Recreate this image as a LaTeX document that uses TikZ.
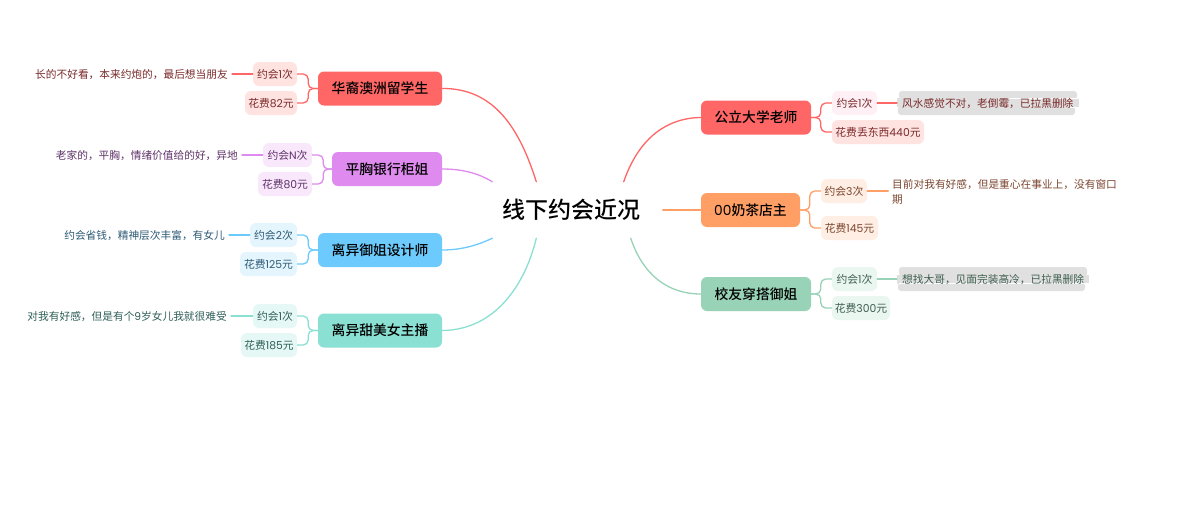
\documentclass[tikz,border=0pt]{standalone}
\usepackage{fontspec}
\setmainfont{Noto Sans CJK SC}
\newfontfamily\medf{Noto Sans CJK SC Medium}
\newfontfamily\latf{Poppins}
\newcommand{\lat}[1]{{\latf #1}}
\definecolor{cRed}{HTML}{FF6666}
\definecolor{cRedL}{HTML}{FFE3E0}
\definecolor{cRedT}{HTML}{7A2A2A}
\definecolor{cPink}{HTML}{FFF0F6}
\definecolor{cPur}{HTML}{DE8AEE}
\definecolor{cPurL}{HTML}{F9E8FC}
\definecolor{cPurT}{HTML}{5E3268}
\definecolor{cBlue}{HTML}{6CCBFC}
\definecolor{cBlueL}{HTML}{E4F5FE}
\definecolor{cBlueT}{HTML}{2E5A75}
\definecolor{cTeal}{HTML}{8AE0D2}
\definecolor{cTealL}{HTML}{E6F8F5}
\definecolor{cTealT}{HTML}{2F5F58}
\definecolor{cOr}{HTML}{FF9F66}
\definecolor{cOrL}{HTML}{FFEEE3}
\definecolor{cOrT}{HTML}{7C4630}
\definecolor{cGr}{HTML}{98D3B7}
\definecolor{cGrL}{HTML}{EAF6F0}
\definecolor{cGrT}{HTML}{3F5F50}
\definecolor{cHi}{HTML}{E0E0E0}
\tikzset{
  x=1pt,y=-1pt,
  mainbox/.style={rounded corners=6pt,inner sep=0pt,minimum height=34pt,text=black,text height=12.1pt,text depth=1.7pt,font=\fontsize{13.8}{16}\medf},
  subbox/.style={rounded corners=6pt,inner sep=0pt,minimum height=24pt,text height=9.5pt,text depth=1.3pt,font=\fontsize{10.8}{13}\selectfont},
  leaf/.style={inner sep=0pt,text height=9.4pt,text depth=1.3pt,font=\fontsize{10.7}{15}\selectfont},
  leafwrap/.style={inner sep=0pt,font=\fontsize{10.7}{15}\selectfont},
  link/.style={line width=1.3pt,line cap=round},
  bracket/.style={line width=1.3pt,rounded corners=5pt},
  hibar/.style={fill=cHi,draw=none},
  rootnode/.style={inner sep=0pt,minimum width=158pt,minimum height=56pt,text height=20.2pt,text depth=2.8pt,font=\fontsize{23}{26}\medf}
}
\begin{document}
\begin{tikzpicture}
\useasboundingbox[fill=white] (0,0) rectangle (1200,504);
\node[rootnode] (root) at (571.5,210) {线下约会近况};
% left main
\node[mainbox,fill=cRed,minimum width=124pt] (a) at (380,88.5) {华裔澳洲留学生};
\node[mainbox,fill=cPur,minimum width=110pt] (b) at (387,169) {平胸银行柜姐};
\node[mainbox,fill=cBlue,minimum width=124pt] (c) at (380,250) {离异御姐设计师};
\node[mainbox,fill=cTeal,minimum width=124pt] (d) at (380,330.5) {离异甜美女主播};
% right main
\node[mainbox,fill=cRed,minimum width=110pt] (e) at (756,117.5) {公立大学老师};
\node[mainbox,fill=cOr,minimum width=99pt] (f) at (750.5,210) {\lat{00}奶茶店主};
\node[mainbox,fill=cGr,minimum width=110pt] (g) at (756,294) {校友穿搭御姐};
% left subs
\node[subbox,fill=cRedL,text=cRedT,minimum width=44pt] (a1) at (275,74) {约会\lat{1}次};
\node[subbox,fill=cRedL,text=cRedT,minimum width=52pt] (a2) at (271,103) {花费\lat{82}元};
\node[subbox,fill=cPurL,text=cPurT,minimum width=49pt] (b1) at (287.5,155) {约会\lat{N}次};
\node[subbox,fill=cPurL,text=cPurT,minimum width=54pt] (b2) at (285,184) {花费\lat{80}元};
\node[subbox,fill=cBlueL,text=cBlueT,minimum width=47pt] (c1) at (273.5,235) {约会\lat{2}次};
\node[subbox,fill=cBlueL,text=cBlueT,minimum width=57pt] (c2) at (268.5,264) {花费\lat{125}元};
\node[subbox,fill=cTealL,text=cTealT,minimum width=44pt] (d1) at (275,316) {约会\lat{1}次};
\node[subbox,fill=cTealL,text=cTealT,minimum width=56pt] (d2) at (269,345) {花费\lat{185}元};
% right subs
\node[subbox,fill=cPink,text=cRedT,minimum width=45pt] (e1) at (854.5,103) {约会\lat{1}次};
\node[subbox,fill=cRedL,text=cRedT,minimum width=92pt] (e2) at (878,132) {花费丢东西\lat{440}元};
\node[subbox,fill=cOrL,text=cOrT,minimum width=46pt] (f1) at (844,191) {约会\lat{3}次};
\node[subbox,fill=cOrL,text=cOrT,minimum width=57pt] (f2) at (849.5,228) {花费\lat{145}元};
\node[subbox,fill=cGrL,text=cGrT,minimum width=45pt] (g1) at (854.5,279) {约会\lat{1}次};
\node[subbox,fill=cGrL,text=cGrT,minimum width=58pt] (g2) at (861,308) {花费\lat{300}元};
% highlight bars
\fill[hibar,rounded corners=3pt] (899,91) rectangle (1077,99);
\fill[hibar] (897,98) rectangle (1079,107);
\fill[hibar,rounded corners=3pt] (898,106) rectangle (1075,115);
\fill[hibar,rounded corners=3pt] (899,267) rectangle (1087,276);
\fill[hibar] (897,275) rectangle (1089,284);
\fill[hibar,rounded corners=3pt] (898,283) rectangle (1085,291);
\draw[white,line width=.6pt] (1010,98) -- (1079,98);
\draw[white,line width=.6pt] (1068,107) -- (1079,107);
\draw[white,line width=.6pt] (899,283) -- (1089,283);
% leaves
\node[leaf,text=cRedT,anchor=east] (a3) at (228,74) {长的不好看，本来约炮的，最后想当朋友};
\node[leaf,text=cPurT,anchor=east] (b3) at (238,155) {老家的，平胸，情绪价值给的好，异地};
\node[leaf,text=cBlueT,anchor=east] (c3) at (225,235) {约会省钱，精神层次丰富，有女儿};
\node[leaf,text=cTealT,anchor=east] (d3) at (227,316) {对我有好感，但是有个\lat{9}岁女儿我就很难受};
\node[leaf,text=cRedT,anchor=west] (e3) at (902,103) {风水感觉不对，老倒霉，已拉黑删除};
\node[leafwrap,text=cOrT,anchor=north west,text width=248pt,align=left] (f3) at (892,179) {目前对我有好感，但是重心在事业上，没有窗口\\期};
\node[leaf,text=cGrT,anchor=west] (g3) at (902,279) {想找大哥，见面完装高冷，已拉黑删除};
% root connectors
\draw[link,cRed] (a.east) .. controls (495,88) and (520,130) .. ([xshift=44pt]root.north west);
\draw[link,cPur] (b.east) .. controls (462,169) and (478,173) .. (root.north west);
\draw[link,cBlue] (c.east) .. controls (462,250) and (478,245) .. (root.south west);
\draw[link,cTeal] (d.east) .. controls (495,330) and (525,285) .. ([xshift=44pt]root.south west);
\draw[link,cRed] (e.west) .. controls (665,118) and (638,140) .. ([xshift=-27pt]root.north east);
\draw[link,cOr] (f.west) -- ++(-38,0);
\draw[link,cGr] (g.west) .. controls (668,294) and (643,275) .. ([xshift=-20pt]root.south east);
% brackets
\foreach \p/\s/\cc in {a/a/cRed,b/b/cPur,c/c/cBlue,d/d/cTeal}{
  \draw[bracket,\cc] (\s1.east) -- ++(11,0) |- (\p.west);
  \draw[bracket,\cc] (\s2.east) -- ++(11,0) |- (\p.west);
}
\foreach \p/\s/\cc in {e/e/cRed,f/f/cOr,g/g/cGr}{
  \draw[bracket,\cc] (\s1.west) -- ++(-11,0) |- (\p.east);
  \draw[bracket,\cc] (\s2.west) -- ++(-11,0) |- (\p.east);
}
% leaf links
\draw[link,cRed] (a3.east)++(4,0) -- (a1.west);
\draw[link,cPur] (b3.east)++(4,0) -- (b1.west);
\draw[link,cBlue] (c3.east)++(4,0) -- (c1.west);
\draw[link,cTeal] (d3.east)++(4,0) -- (d1.west);
\draw[link,cRed] (e1.east) -- ([xshift=-5pt]e3.west);
\draw[link,cOr] (f1.east) -- ++(21,0);
\draw[link,cGr] (g1.east) -- ([xshift=-5pt]g3.west);
\end{tikzpicture}
\end{document}
